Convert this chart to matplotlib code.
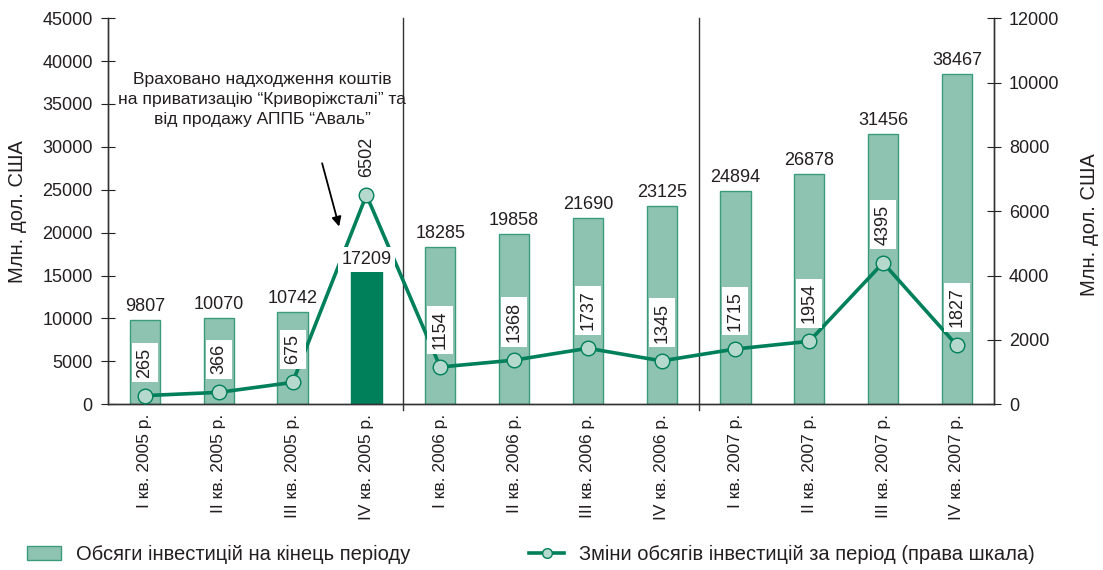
import numpy as np
import matplotlib
matplotlib.use('Agg')
import matplotlib.pyplot as plt
from matplotlib.lines import Line2D
from matplotlib.patches import Patch

plt.rcParams['font.family'] = ['Liberation Sans', 'DejaVu Sans']
plt.rcParams['font.size'] = 13

# data
quarters = ['I кв. 2005 р.', 'II кв. 2005 р.', 'III кв. 2005 р.', 'IV кв. 2005 р.',
            'I кв. 2006 р.', 'II кв. 2006 р.', 'III кв. 2006 р.', 'IV кв. 2006 р.',
            'I кв. 2007 р.', 'II кв. 2007 р.', 'III кв. 2007 р.', 'IV кв. 2007 р.']
volume_end = [9807, 10070, 10742, 17209, 18285, 19858, 21690, 23125,
              24894, 26878, 31456, 38467]
change_period = [265, 366, 675, 6502, 1154, 1368, 1737, 1345,
                 1715, 1954, 4395, 1827]
highlight = 3  # IV кв. 2005

left_ticks = list(range(0, 45001, 5000))
right_ticks = list(range(0, 12001, 2000))

bar_color = '#8fc3b1'
bar_edge = '#3a9c7c'
dark_green = '#00805a'
marker_face = '#b5d9cc'
text_col = '#231f20'

fig = plt.figure(figsize=(11.03, 5.70), dpi=100)
ax = fig.add_axes([0.098, 0.291, 0.803, 0.677])
ax2 = ax.twinx()

x = np.arange(len(quarters))
colors = [dark_green if i == highlight else bar_color for i in x]
edges = [dark_green if i == highlight else bar_edge for i in x]
bars = ax.bar(x, volume_end, width=0.41, color=colors, edgecolor=edges, linewidth=1, zorder=2)

ax.set_xlim(-0.5, len(quarters) - 0.5)
ax.set_ylim(0, 45000)
ax.set_yticks(left_ticks)
ax2.set_ylim(0, 12000)
ax2.set_yticks(right_ticks)

ax.set_xticks(x)
ax.set_xticklabels(quarters, rotation=90, va='top', color=text_col, fontsize=12.5)
ax.tick_params(axis='x', length=0, pad=7)
ax.tick_params(axis='y', direction='inout', length=10, width=0.8, colors=text_col, pad=6)
ax2.tick_params(axis='y', direction='inout', length=10, width=0.8, colors=text_col, pad=6)

for a in (ax, ax2):
    a.spines['top'].set_visible(False)
    for s in ('left', 'right', 'bottom'):
        a.spines[s].set_color('#333333')
        a.spines[s].set_linewidth(1)

# year separators
for sep in (3.5, 7.5):
    ax.axvline(sep, ymin=-0.015, ymax=1, color='#333333', lw=1, clip_on=False, zorder=1)

ax.set_ylabel('Млн. дол. США', fontsize=14.5, color=text_col)
ax2.set_ylabel('Млн. дол. США', fontsize=14.5, color=text_col)
ax.yaxis.set_label_coords(-0.091, 0.5)
ax2.yaxis.set_label_coords(1.097, 0.464)

# bar labels
for i, v in enumerate(volume_end):
    if i == highlight:
        continue
    ax.annotate(str(v), (i, v), xytext=(0, 5), textcoords='offset pixels',
                ha='center', va='bottom', color=text_col)

# line on right scale
ax2.plot(x, change_period, color=dark_green, lw=2.6, marker='o', markersize=10.5,
         markerfacecolor=marker_face, markeredgecolor=dark_green, markeredgewidth=1, zorder=3)
for i, v in enumerate(change_period):
    ax2.annotate(str(v), (i, v), xytext=(0, 18), textcoords='offset pixels',
                 ha='center', va='bottom', rotation=90, color=text_col, zorder=4,
                 bbox=dict(boxstyle='square,pad=0.25', fc='white', ec='none'))
ax2.set_zorder(ax.get_zorder() + 1)
ax2.patch.set_visible(False)

# label of the highlighted bar sits over the line
ax2.annotate(str(volume_end[highlight]), (highlight, volume_end[highlight]), xycoords=ax.transData,
             xytext=(0, -3), textcoords='offset pixels', ha='center', va='center',
             color=text_col, zorder=5,
             bbox=dict(boxstyle='square,pad=0.2', fc='white', ec='none'))

ax.text(1.59, 35500, 'Враховано надходження коштів\nна приватизацію “Криворіжсталі” та\nвід продажу АППБ “Аваль”',
        ha='center', va='center', color=text_col, fontsize=12.6, linespacing=1.4)
ax.annotate('', xy=(2.64, 20400), xytext=(2.39, 28400),
            arrowprops=dict(arrowstyle='-|>', color='black', lw=1.3, mutation_scale=14))

handles = [Patch(facecolor=bar_color, edgecolor=bar_edge),
           Line2D([0], [0], color=dark_green, lw=2.6, marker='o', markersize=7,
                  markerfacecolor=marker_face, markeredgecolor=dark_green)]
labels = ['Обсяги інвестицій на кінець періоду',
          'Зміни обсягів інвестицій за період (права шкала)']
fig.legend(handles, labels, loc='lower left', bbox_to_anchor=(0.008, -0.021), ncol=2,
           frameon=False, columnspacing=5.9, handlelength=1.7, handletextpad=0.75,
           fontsize=14.5, labelcolor=text_col)

fig.savefig('out.png', dpi=100)
